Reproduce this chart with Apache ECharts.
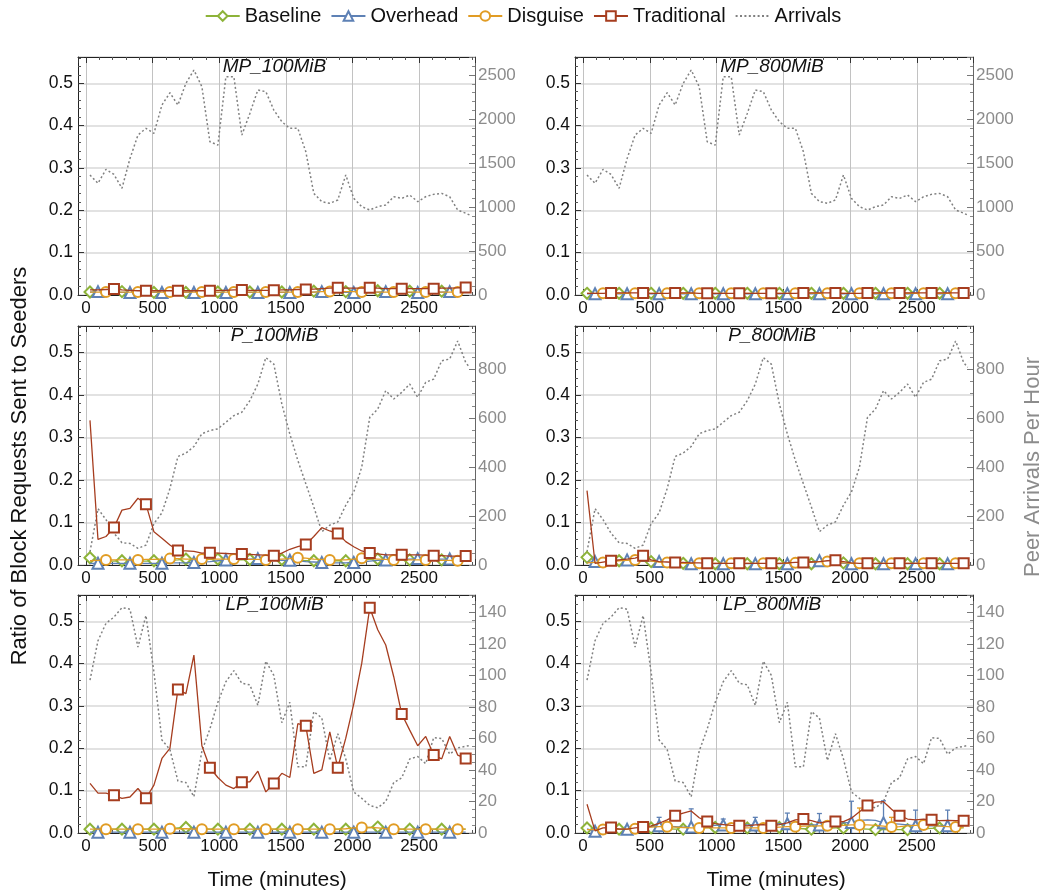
<!DOCTYPE html>
<html><head><meta charset="utf-8">
<script src="https://cdn.jsdelivr.net/npm/echarts@6/dist/echarts.min.js"></script>
<style>html,body{margin:0;padding:0;background:#fff}#c{width:1046px;height:895px}</style>
</head><body><div id="c"></div>
<script>
// ---------------- DATA ----------------
const times = [30,90,150,210,270,330,390,450,510,570,630,690,750,810,870,930,990,1050,1110,1170,1230,1290,1350,1410,1470,1530,1590,1650,1710,1770,1830,1890,1950,2010,2070,2130,2190,2250,2310,2370,2430,2490,2550,2610,2670,2730,2790,2850];
const arrivalTimes = [30,90,150,210,270,330,390,450,510,570,630,690,750,810,870,930,990,1050,1110,1170,1230,1290,1350,1410,1470,1530,1590,1650,1710,1770,1830,1890,1950,2010,2070,2130,2190,2250,2310,2370,2430,2490,2550,2610,2670,2730,2790,2850,2880];
const seriesNames = ['Baseline','Overhead','Disguise','Traditional','Arrivals'];
const panelTitles = ['MP_100MiB','MP_800MiB','P_100MiB','P_800MiB','LP_100MiB','LP_800MiB'];
const xTicks = [0,500,1000,1500,2000,2500];

// Peer arrivals per hour (right axis)
const arr_mp = [1364,1269,1428,1370,1212,1550,1818,1894,1837,2159,2299,2159,2405,2557,2367,1742,1704,2481,2481,1818,2064,2330,2311,2102,1970,1894,1894,1629,1155,1061,1042,1080,1364,1098,1004,966,1004,1023,1117,1098,1136,1061,1117,1144,1155,1117,966,930,909];
const arr_p = [54,230,185,130,91,88,68,81,169,213,312,443,457,484,536,549,556,583,610,624,671,739,847,820,658,535,427,332,237,136,163,176,244,298,400,603,637,712,678,705,739,685,746,759,834,841,915,827,807];
const arr_lp = [97,122,133,137,143,142,118,138,102,59,53,33,32,23,52,66,83,96,103,95,94,81,109,100,70,83,42,42,77,73,46,63,47,26,22,17.5,16,20,32,35,47,48.5,44,60.5,60,50,54,55,55.5];

// MP_100MiB
const base_mp100 = [0.007,0.008,0.008,0.007,0.008,0.007,0.007,0.008,0.006,0.007,0.007,0.006,0.006,0.007,0.007,0.006,0.007,0.008,0.007,0.007,0.007,0.007,0.008,0.007,0.007,0.008,0.008,0.008,0.009,0.009,0.009,0.009,0.008,0.009,0.010,0.010,0.010,0.010,0.010,0.010,0.009,0.010,0.010,0.009,0.009,0.009,0.009,0.009];
const over_mp100 = [0.007,0.008,0.007,0.007,0.006,0.006,0.006,0.006,0.006,0.006,0.006,0.006,0.006,0.006,0.006,0.006,0.006,0.006,0.006,0.006,0.006,0.006,0.006,0.006,0.006,0.006,0.006,0.007,0.007,0.008,0.007,0.007,0.006,0.006,0.006,0.007,0.007,0.008,0.007,0.007,0.006,0.006,0.006,0.007,0.007,0.008,0.007,0.007];
const disg_mp100 = [0.007,0.007,0.007,0.007,0.007,0.007,0.007,0.007,0.007,0.007,0.007,0.007,0.007,0.007,0.007,0.007,0.007,0.007,0.007,0.007,0.007,0.007,0.007,0.007,0.007,0.007,0.007,0.007,0.007,0.008,0.008,0.008,0.008,0.008,0.007,0.007,0.007,0.007,0.007,0.007,0.007,0.007,0.007,0.007,0.007,0.007,0.007,0.007];
const trad_mp100 = [0.012,0.012,0.013,0.014,0.012,0.011,0.010,0.010,0.010,0.010,0.010,0.010,0.010,0.010,0.010,0.010,0.011,0.011,0.012,0.012,0.011,0.011,0.011,0.011,0.012,0.012,0.013,0.013,0.014,0.015,0.016,0.017,0.016,0.016,0.016,0.017,0.016,0.015,0.015,0.015,0.015,0.015,0.015,0.015,0.016,0.016,0.017,0.018];

// MP_800MiB
const base_mp800 = [0.004,0.004,0.004,0.004,0.004,0.004,0.004,0.004,0.004,0.004,0.004,0.004,0.004,0.004,0.004,0.004,0.004,0.004,0.004,0.004,0.004,0.004,0.004,0.004,0.004,0.004,0.004,0.004,0.004,0.004,0.004,0.004,0.004,0.004,0.004,0.004,0.004,0.004,0.004,0.004,0.004,0.004,0.004,0.004,0.004,0.004,0.004,0.004];
const over_mp800 = [0.003,0.003,0.003,0.003,0.003,0.003,0.003,0.003,0.003,0.003,0.003,0.003,0.003,0.003,0.003,0.003,0.003,0.003,0.003,0.003,0.003,0.003,0.003,0.003,0.003,0.003,0.003,0.003,0.003,0.003,0.003,0.003,0.003,0.003,0.003,0.003,0.003,0.003,0.003,0.003,0.003,0.003,0.003,0.003,0.003,0.003,0.003,0.003];
const disg_mp800 = [0.004,0.004,0.004,0.004,0.004,0.004,0.004,0.004,0.004,0.004,0.004,0.004,0.004,0.004,0.004,0.004,0.004,0.004,0.004,0.004,0.004,0.004,0.004,0.004,0.004,0.004,0.004,0.004,0.004,0.004,0.004,0.004,0.004,0.004,0.004,0.004,0.004,0.004,0.004,0.004,0.004,0.004,0.004,0.004,0.004,0.004,0.004,0.004];
const trad_mp800 = [0.004,0.004,0.004,0.005,0.005,0.005,0.005,0.005,0.004,0.004,0.004,0.005,0.005,0.005,0.004,0.004,0.004,0.004,0.004,0.004,0.004,0.004,0.004,0.004,0.004,0.004,0.004,0.005,0.005,0.005,0.005,0.005,0.004,0.004,0.004,0.005,0.005,0.005,0.005,0.005,0.005,0.005,0.005,0.005,0.005,0.005,0.005,0.005];

// P_100MiB
const base_p100 = [0.017,0.010,0.009,0.009,0.010,0.010,0.009,0.009,0.010,0.010,0.011,0.012,0.014,0.012,0.012,0.013,0.014,0.013,0.012,0.012,0.013,0.013,0.012,0.012,0.013,0.012,0.011,0.010,0.010,0.010,0.010,0.010,0.010,0.011,0.012,0.013,0.014,0.013,0.012,0.012,0.012,0.012,0.011,0.011,0.012,0.011,0.011,0.010];
const over_p100 = [0.004,0.004,0.004,0.004,0.004,0.004,0.004,0.004,0.004,0.004,0.005,0.005,0.005,0.006,0.007,0.008,0.010,0.012,0.013,0.014,0.014,0.015,0.014,0.012,0.011,0.011,0.010,0.008,0.007,0.006,0.005,0.005,0.005,0.006,0.007,0.009,0.011,0.012,0.013,0.014,0.014,0.015,0.015,0.014,0.014,0.014,0.013,0.013];
const disg_p100 = [0.010,0.011,0.012,0.012,0.012,0.012,0.012,0.013,0.013,0.014,0.015,0.015,0.014,0.014,0.014,0.014,0.014,0.014,0.014,0.013,0.013,0.013,0.012,0.013,0.014,0.015,0.017,0.016,0.014,0.013,0.012,0.012,0.012,0.014,0.016,0.015,0.014,0.013,0.012,0.012,0.012,0.012,0.012,0.011,0.011,0.011,0.010,0.010];
const trad_p100 = [0.340,0.060,0.067,0.088,0.129,0.133,0.157,0.143,0.078,0.063,0.047,0.034,0.033,0.032,0.028,0.029,0.028,0.027,0.026,0.026,0.025,0.024,0.023,0.022,0.028,0.037,0.043,0.048,0.067,0.088,0.080,0.074,0.055,0.043,0.033,0.028,0.026,0.024,0.024,0.024,0.024,0.024,0.023,0.022,0.022,0.021,0.021,0.021];

// P_800MiB
const base_p800 = [0.018,0.012,0.010,0.010,0.010,0.010,0.010,0.009,0.008,0.006,0.005,0.004,0.004,0.003,0.003,0.003,0.003,0.003,0.003,0.003,0.003,0.003,0.003,0.003,0.003,0.003,0.003,0.003,0.003,0.003,0.003,0.004,0.005,0.004,0.003,0.003,0.003,0.003,0.003,0.003,0.003,0.003,0.003,0.003,0.003,0.003,0.003,0.003];
const over_p800 = [0.006,0.008,0.009,0.010,0.011,0.012,0.011,0.010,0.009,0.008,0.006,0.005,0.004,0.003,0.003,0.003,0.003,0.003,0.003,0.003,0.003,0.003,0.003,0.003,0.003,0.003,0.004,0.006,0.008,0.010,0.008,0.006,0.004,0.003,0.003,0.003,0.003,0.003,0.003,0.003,0.003,0.003,0.003,0.003,0.003,0.003,0.003,0.003];
const disg_p800 = [0.005,0.006,0.006,0.008,0.010,0.011,0.012,0.011,0.009,0.007,0.006,0.005,0.004,0.004,0.004,0.004,0.004,0.004,0.004,0.004,0.004,0.004,0.004,0.004,0.004,0.004,0.005,0.006,0.007,0.008,0.008,0.007,0.005,0.004,0.004,0.004,0.004,0.004,0.004,0.004,0.004,0.004,0.004,0.004,0.004,0.004,0.004,0.004];
const trad_p800 = [0.175,0.004,0.007,0.010,0.012,0.014,0.016,0.022,0.012,0.008,0.007,0.006,0.006,0.005,0.005,0.004,0.004,0.004,0.004,0.004,0.004,0.004,0.004,0.004,0.004,0.005,0.006,0.006,0.007,0.008,0.010,0.011,0.008,0.005,0.004,0.004,0.004,0.004,0.004,0.004,0.004,0.004,0.004,0.004,0.004,0.004,0.004,0.004];

// LP_100MiB
const base_lp100 = [0.009,0.009,0.009,0.009,0.009,0.009,0.009,0.009,0.009,0.009,0.010,0.012,0.013,0.012,0.010,0.009,0.009,0.009,0.009,0.009,0.009,0.009,0.009,0.009,0.009,0.009,0.009,0.009,0.009,0.009,0.009,0.009,0.009,0.010,0.012,0.013,0.014,0.012,0.010,0.009,0.009,0.009,0.009,0.009,0.009,0.009,0.009,0.009];
const over_lp100 = [0.002,0.002,0.002,0.002,0.002,0.002,0.002,0.002,0.002,0.002,0.002,0.002,0.002,0.002,0.002,0.002,0.002,0.002,0.002,0.002,0.002,0.002,0.002,0.002,0.002,0.002,0.002,0.002,0.002,0.002,0.002,0.002,0.002,0.002,0.002,0.002,0.002,0.002,0.002,0.002,0.002,0.002,0.002,0.002,0.002,0.002,0.002,0.002];
const disg_lp100 = [0.009,0.009,0.009,0.009,0.009,0.009,0.009,0.009,0.009,0.009,0.010,0.010,0.010,0.009,0.009,0.009,0.009,0.009,0.009,0.009,0.009,0.009,0.009,0.009,0.009,0.009,0.009,0.009,0.009,0.009,0.009,0.009,0.010,0.012,0.013,0.013,0.012,0.010,0.009,0.009,0.009,0.009,0.009,0.009,0.009,0.009,0.009,0.009];
const trad_lp100 = [0.117,0.094,0.094,0.089,0.082,0.085,0.105,0.082,0.113,0.176,0.200,0.339,0.329,0.420,0.206,0.154,0.131,0.113,0.105,0.120,0.121,0.146,0.097,0.117,0.141,0.131,0.258,0.253,0.141,0.149,0.239,0.154,0.224,0.305,0.401,0.532,0.480,0.444,0.369,0.281,0.243,0.206,0.228,0.184,0.175,0.228,0.184,0.176];

// LP_800MiB
const base_lp800 = [0.012,0.010,0.009,0.009,0.009,0.010,0.011,0.011,0.012,0.011,0.010,0.009,0.009,0.011,0.012,0.013,0.013,0.012,0.012,0.012,0.012,0.012,0.013,0.013,0.013,0.012,0.011,0.010,0.009,0.010,0.011,0.012,0.012,0.011,0.010,0.009,0.008,0.008,0.008,0.008,0.008,0.009,0.010,0.011,0.012,0.012,0.012,0.012];
const over_lp800 = [0.010,0.004,0.006,0.008,0.009,0.009,0.011,0.013,0.015,0.017,0.016,0.015,0.014,0.014,0.016,0.017,0.018,0.019,0.019,0.019,0.019,0.019,0.020,0.021,0.022,0.022,0.021,0.020,0.019,0.019,0.020,0.022,0.024,0.025,0.030,0.031,0.030,0.024,0.022,0.021,0.019,0.017,0.017,0.017,0.017,0.017,0.017,0.017];
const disg_lp800 = [0.008,0.008,0.008,0.009,0.009,0.009,0.010,0.012,0.014,0.015,0.015,0.014,0.013,0.012,0.012,0.012,0.012,0.012,0.012,0.012,0.012,0.012,0.012,0.013,0.014,0.015,0.015,0.016,0.016,0.017,0.017,0.017,0.018,0.019,0.019,0.019,0.018,0.016,0.014,0.015,0.017,0.018,0.019,0.018,0.016,0.015,0.014,0.014];
const trad_lp800 = [0.068,0.005,0.012,0.013,0.009,0.009,0.012,0.014,0.017,0.023,0.031,0.041,0.047,0.052,0.036,0.027,0.022,0.020,0.018,0.017,0.017,0.019,0.020,0.017,0.020,0.024,0.031,0.033,0.029,0.024,0.027,0.027,0.027,0.035,0.050,0.065,0.073,0.074,0.056,0.041,0.033,0.031,0.033,0.031,0.029,0.030,0.029,0.029];
// error half-widths at the marker points (LP_800MiB)
const over_err_lp800 = [0.004,0.006,0.020,0.043,0.014,0.018,0.025,0.027,0.050,0.052,0.037,0.037];
const disg_err_lp800 = [0.003,0.004,0.006,0.005,0.005,0.005,0.006,0.006,0.040,0.023,0.008,0.006];

// ---------------- STYLE / LAYOUT ----------------
const FONT = '"Liberation Sans", Arial, Helvetica, sans-serif';
const colors = {Baseline:'#8db339', Overhead:'#5e81b5', Disguise:'#e19c24', Traditional:'#a63d1f', Arrivals:'#808080'};
const symbols = {Baseline:'emptyDiamond', Overhead:'emptyTriangle', Disguise:'emptyCircle', Traditional:'emptyRect'};
const symSize = {Baseline:11, Overhead:11, Disguise:10, Traditional:10};
const phase = {Baseline:0, Overhead:1, Disguise:2, Traditional:3};
const layout = [
  {left:78, top:57, width:397, height:238},
  {left:575, top:57, width:398, height:238},
  {left:78, top:326, width:397, height:239},
  {left:575, top:326, width:398, height:239},
  {left:78, top:595, width:397, height:238},
  {left:575, top:595, width:398, height:238}
];
const panels = [
  {vals:[base_mp100, over_mp100, disg_mp100, trad_mp100], arr:arr_mp, rMax:2705, rInt:500, rMinor:5},
  {vals:[base_mp800, over_mp800, disg_mp800, trad_mp800], arr:arr_mp, rMax:2705, rInt:500, rMinor:5},
  {vals:[base_p100, over_p100, disg_p100, trad_p100], arr:arr_p, rMax:976, rInt:200, rMinor:4},
  {vals:[base_p800, over_p800, disg_p800, trad_p800], arr:arr_p, rMax:976, rInt:200, rMinor:4},
  {vals:[base_lp100, over_lp100, disg_lp100, trad_lp100], arr:arr_lp, rMax:151, rInt:20, rMinor:4},
  {vals:[base_lp800, over_lp800, disg_lp800, trad_lp800], arr:arr_lp, rMax:151, rInt:20, rMinor:4,
   err:[{name:'Overhead', e:over_err_lp800, v:over_lp800}, {name:'Disguise', e:disg_err_lp800, v:disg_lp800}]}
];

const grid = [], xAxis = [], yAxis = [], series = [], graphic = [];
const isMult = (v, step) => Math.abs(v/step - Math.round(v/step)) < 1e-6;

panels.forEach((p, i) => {
  const L = layout[i];
  grid.push({left:L.left, top:L.top, width:L.width, height:L.height, containLabel:false});
  xAxis.push({gridIndex:i, type:'value', min:-60, max:2920, splitNumber:6, position:'bottom',
    axisLine:{show:true, onZero:false, lineStyle:{color:'#222', width:1}},
    axisTick:{show:true, inside:true, length:6, lineStyle:{color:'#333'}},
    minorTick:{show:true, splitNumber:5, length:3, lineStyle:{color:'#555'}},
    axisLabel:{fontSize:17, color:'#111', fontFamily:FONT, margin:5,
      formatter: v => (xTicks.indexOf(v) >= 0 ? String(v) : '')},
    splitLine:{show:true, lineStyle:{color:'#c2c2c2', width:1}}});
  xAxis.push({gridIndex:i, type:'value', min:-60, max:2920, splitNumber:6, position:'top',
    axisLine:{show:true, onZero:false, lineStyle:{color:'#222', width:1}},
    axisTick:{show:true, inside:true, length:6, lineStyle:{color:'#333'}},
    minorTick:{show:true, splitNumber:5, length:3, lineStyle:{color:'#555'}},
    axisLabel:{show:false}, splitLine:{show:false}});
  yAxis.push({gridIndex:i, type:'value', min:0, max:0.562, interval:0.1, position:'left',
    axisLine:{show:true, onZero:false, lineStyle:{color:'#222', width:1}},
    axisTick:{show:true, inside:true, length:6, lineStyle:{color:'#333'}},
    minorTick:{show:true, splitNumber:5, length:3, lineStyle:{color:'#555'}},
    axisLabel:{fontSize:17.5, color:'#111', fontFamily:FONT, margin:5,
      formatter: v => (isMult(v, 0.1) && v <= 0.5 + 1e-9 ? v.toFixed(1) : '')},
    splitLine:{show:true, lineStyle:{color:'#d8d8d8', width:1.5}}});
  yAxis.push({gridIndex:i, type:'value', min:0, max:p.rMax, interval:p.rInt, position:'right',
    axisLine:{show:true, onZero:false, lineStyle:{color:'#666', width:1}},
    axisTick:{show:true, inside:true, length:6, lineStyle:{color:'#777'}},
    minorTick:{show:true, splitNumber:p.rMinor, length:3, lineStyle:{color:'#888'}},
    axisLabel:{fontSize:17, color:'#8c8c8c', fontFamily:FONT, margin:3,
      formatter: v => (isMult(v, p.rInt) && v <= p.rMax - p.rInt*0.3 ? String(v) : '')},
    splitLine:{show:false}});

  const xb = 2*i, yl = 2*i, yr = 2*i + 1;
  series.push({name:'Arrivals', type:'line', xAxisIndex:xb, yAxisIndex:yr, z:1,
    data: arrivalTimes.map((t, k) => [t, p.arr[k]]), symbol:'none', showSymbol:false,
    lineStyle:{color:colors.Arrivals, width:1.5, type:[2,2.4]}, itemStyle:{color:'rgba(0,0,0,0)'},
    animation:false});
  (p.err || []).forEach(eb => {
    const ph = phase[eb.name];
    const col = colors[eb.name];
    series.push({type:'custom', xAxisIndex:xb, yAxisIndex:yl, z:2, clip:true, animation:false,
      data: eb.e.map((e, j) => { const k = ph + 4*j; const v = eb.v[k]; return [times[k], Math.max(0, v - e), v + e]; }),
      renderItem: (params, api) => {
        const a = api.coord([api.value(0), api.value(1)]);
        const b = api.coord([api.value(0), api.value(2)]);
        const st = {stroke:col, lineWidth:1.3};
        return {type:'group', children:[
          {type:'line', shape:{x1:a[0], y1:a[1], x2:b[0], y2:b[1]}, style:st},
          {type:'line', shape:{x1:b[0]-2.5, y1:b[1], x2:b[0]+2.5, y2:b[1]}, style:st}
        ]};
      }});
  });
  ['Baseline','Overhead','Disguise','Traditional'].forEach((nm, s) => {
    const vals = p.vals[s];
    series.push({name:nm, type:'line', xAxisIndex:xb, yAxisIndex:yl, z:3 + s, animation:false,
      symbol:symbols[nm], symbolSize:symSize[nm], showAllSymbol:true,
      data: times.map((t, k) => (k % 4 === phase[nm]) ? [t, vals[k]] : {value:[t, vals[k]], symbol:'none'}),
      lineStyle:{color:colors[nm], width:1.3},
      itemStyle:{color:colors[nm], borderColor:colors[nm], borderWidth:2}});
  });
  graphic.push({type:'text', x:L.left + L.width/2 - 2, y:L.top + 10, z:100,
    style:{text:panelTitles[i], fontSize:19, fontStyle:'italic', fontFamily:FONT, fill:'#111',
      align:'center', verticalAlign:'middle', textAlign:'center', textVerticalAlign:'middle'}});
});

const vText = {fontSize:22, fontFamily:FONT, align:'center', verticalAlign:'middle', textAlign:'center', textVerticalAlign:'middle'};
graphic.push({type:'text', x:20, y:466, rotation:Math.PI/2,
  style:Object.assign({text:'Ratio of Block Requests Sent to Seeders', fill:'#111'}, vText)});
graphic.push({type:'text', x:1033, y:467, rotation:Math.PI/2,
  style:Object.assign({text:'Peer Arrivals Per Hour', fill:'#8c8c8c'}, vText)});
graphic.push({type:'text', x:277, y:880,
  style:Object.assign({text:'Time (minutes)', fill:'#111'}, vText, {fontSize:21})});
graphic.push({type:'text', x:776, y:880,
  style:Object.assign({text:'Time (minutes)', fill:'#111'}, vText, {fontSize:21})});

const chart = echarts.init(document.getElementById('c'), null, {renderer:'canvas'});
chart.setOption({
  backgroundColor:'#fff',
  animation:false,
  legend:{data:seriesNames, top:1, left:'center', itemWidth:34, itemHeight:12, itemGap:9,
    textStyle:{fontSize:20, color:'#111', fontFamily:FONT}},
  grid, xAxis, yAxis, series, graphic
});
</script></body></html>
